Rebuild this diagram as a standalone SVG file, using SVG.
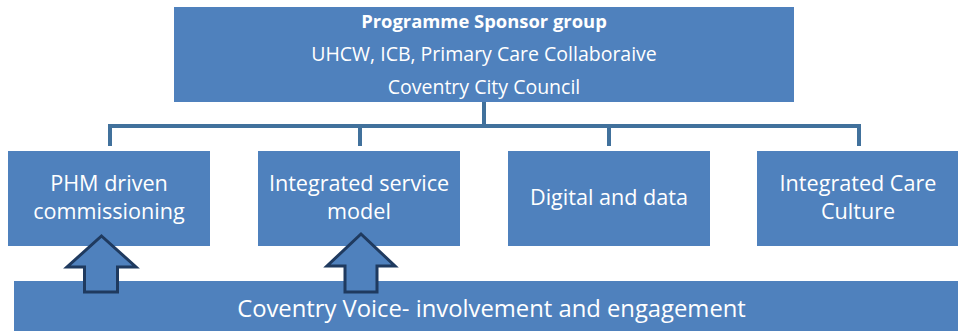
<svg xmlns="http://www.w3.org/2000/svg" width="958" height="331" viewBox="0 0 958 331">
  <style>
    .box { fill: #4F81BD; }
    .lbl { fill: #FFFFFF; font-family: "Open Sans", Lato, "Liberation Sans", sans-serif; text-anchor: middle; }
    .top { font-size: 19.5px; }
    .cell { font-size: 21.6px; }
    .conn { fill: none; stroke: #41719C; stroke-width: 4; }
    .up { fill: #4F81BD; stroke: #1F3A5F; stroke-width: 3; stroke-linejoin: miter; }
  </style>
  <rect width="958" height="331" fill="#FFFFFF"/>

  <!-- tree connectors from the sponsor group down to the four workstreams -->
  <g id="connectors">
    <path class="conn" d="M484 102 V126"/>
    <path class="conn" d="M110 146 V126 H859 V146"/>
    <path class="conn" d="M360 126 V146"/>
    <path class="conn" d="M609 126 V146"/>
  </g>

  <g id="sponsor">
    <rect class="box" x="174" y="7" width="620" height="95"/>
    <text class="lbl" x="484" y="27.5" font-size="18.4" font-weight="bold">Programme Sponsor group</text>
    <text class="lbl top" x="484" y="60.5">UHCW, ICB, Primary Care Collaboraive</text>
    <text class="lbl top" x="484" y="94">Coventry City Council</text>
  </g>

  <g id="phm">
    <rect class="box" x="8" y="151" width="202" height="95"/>
    <text class="lbl cell" x="109" y="191">PHM driven</text>
    <text class="lbl cell" x="109" y="219">commissioning</text>
  </g>

  <g id="service">
    <rect class="box" x="258" y="151" width="202" height="95"/>
    <text class="lbl cell" x="359" y="191">Integrated service</text>
    <text class="lbl cell" x="359" y="219">model</text>
  </g>

  <g id="digital">
    <rect class="box" x="508" y="151" width="202" height="95"/>
    <text class="lbl cell" x="609" y="205">Digital and data</text>
  </g>

  <g id="culture">
    <rect class="box" x="757" y="151" width="202" height="95"/>
    <text class="lbl cell" x="858" y="191">Integrated Care</text>
    <text class="lbl cell" x="858" y="219">Culture</text>
  </g>

  <g id="voice">
    <rect class="box" x="14" y="281" width="944" height="55"/>
    <text class="lbl" x="491.5" y="317" font-size="23.8">Coventry Voice- involvement and engagement</text>
  </g>

  <!-- block arrows rising from the engagement bar -->
  <g id="arrow-phm">
    <path class="up" d="M101.5 236 L136 267 H117.5 V292 H84.5 V267 H67 Z"/>
  </g>
  <g id="arrow-service">
    <path class="up" d="M361 234 L395 266 H377 V292 H345 V266 H327 Z"/>
  </g>
</svg>
